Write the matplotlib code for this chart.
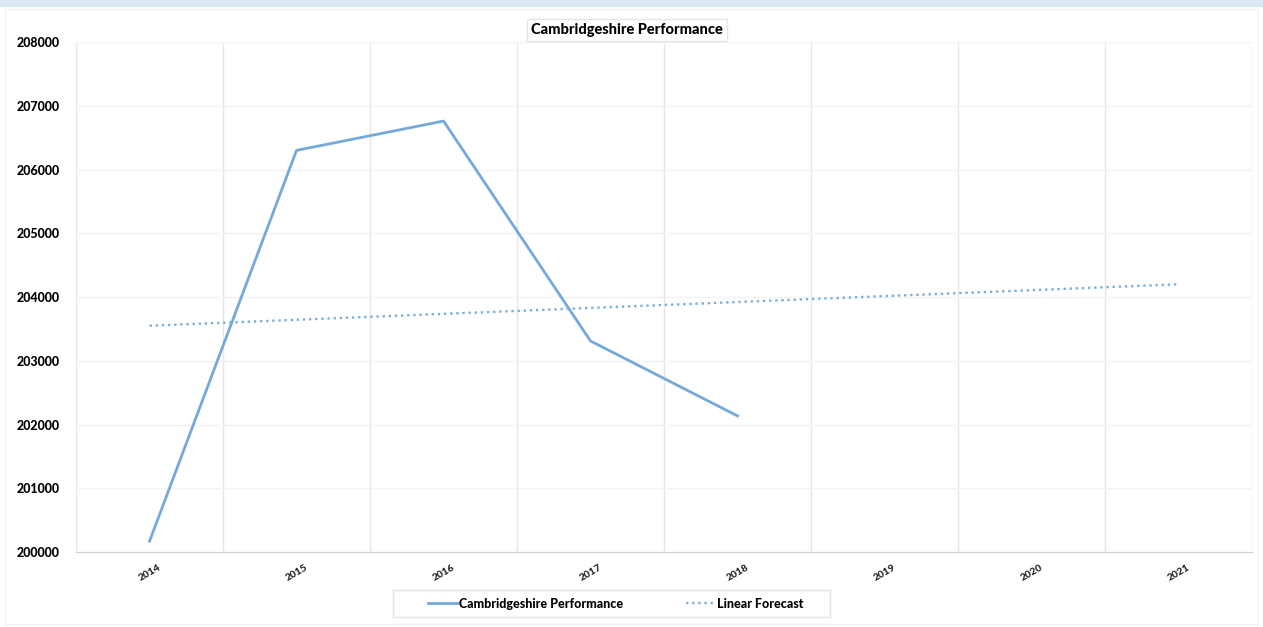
import matplotlib.pyplot as plt
from matplotlib.patches import Rectangle

# values
years = ['2014', '2015', '2016', '2017', '2018', '2019', '2020', '2021']
performance = [200170, 206300, 206760, 203310, 202135]
forecast_ends = [203550, 204200]  # trend line at 2014 and 2021
y_ticks = [200000, 201000, 202000, 203000, 204000, 205000, 206000, 207000, 208000]

plt.rcParams['font.family'] = ['Lato', 'DejaVu Sans']

fig = plt.figure(figsize=(12.63, 6.27), dpi=100)
ax = fig.add_axes([0.0602, 0.1196, 0.9311, 0.8134])

# light blue strip across the top and a faint frame
fig.patches.append(Rectangle((0, 0.99), 1, 0.01, transform=fig.transFigure,
                             color='#dce8f4', zorder=0))
fig.patches.append(Rectangle((0.004, 0.004), 0.992, 0.982, transform=fig.transFigure,
                             fill=False, edgecolor='#f2f2f2', lw=1))

x = list(range(len(years)))
ax.plot(x[:len(performance)], performance, color='#74a9d8', lw=2,
        label='Cambridgeshire Performance')
ax.plot([x[0], x[-1]], forecast_ends, color='#7aaedb', lw=1.7,
        linestyle=(0, (1, 1.6)), label='Linear Forecast')

ax.set_xlim(-0.5, len(years) - 0.5)
ax.set_ylim(200000, 208000)
ax.set_yticks(y_ticks)
ax.set_yticklabels([str(v) for v in y_ticks], fontsize=9, fontweight='black')
ax.set_xticks(x)
ax.set_xticklabels(years, fontsize=7.5, fontweight='black', rotation=30,
                   color='#222222')

# vertical grid between categories, faint horizontal grid
for b in range(len(years) + 1):
    ax.axvline(b - 0.5, color='#e6e6e6', lw=1, zorder=0)
ax.yaxis.grid(True, color='#f3f3f3', lw=1)
ax.set_axisbelow(True)

for s in ['top', 'right', 'left']:
    ax.spines[s].set_visible(False)
ax.spines['bottom'].set_color('#d0d0d0')
ax.tick_params(axis='both', length=0)
ax.tick_params(axis='y', pad=12)
ax.tick_params(axis='x', pad=8)

# title sits centred on the figure, not the axes
fig.text(627 / 1263, 1 - 30 / 627, 'Cambridgeshire Performance', fontsize=10.5,
         fontweight='black', ha='center', va='center',
         bbox=dict(facecolor='white', edgecolor='#e6e6e6', pad=3))

# legend frame drawn separately so its padding matches the reference
fig.patches.append(Rectangle((393 / 1263, 10 / 627), 437 / 1263, 27 / 627,
                             transform=fig.transFigure, facecolor='white',
                             edgecolor='#e3e3e3', lw=1))
leg = fig.legend(loc='center', bbox_to_anchor=(616 / 1263, 23.5 / 627), ncol=2,
                 frameon=False, handlelength=2.4, handletextpad=0.1,
                 columnspacing=5.0, prop={'weight': 'black', 'size': 9})

fig.savefig('out.png', dpi=100)
